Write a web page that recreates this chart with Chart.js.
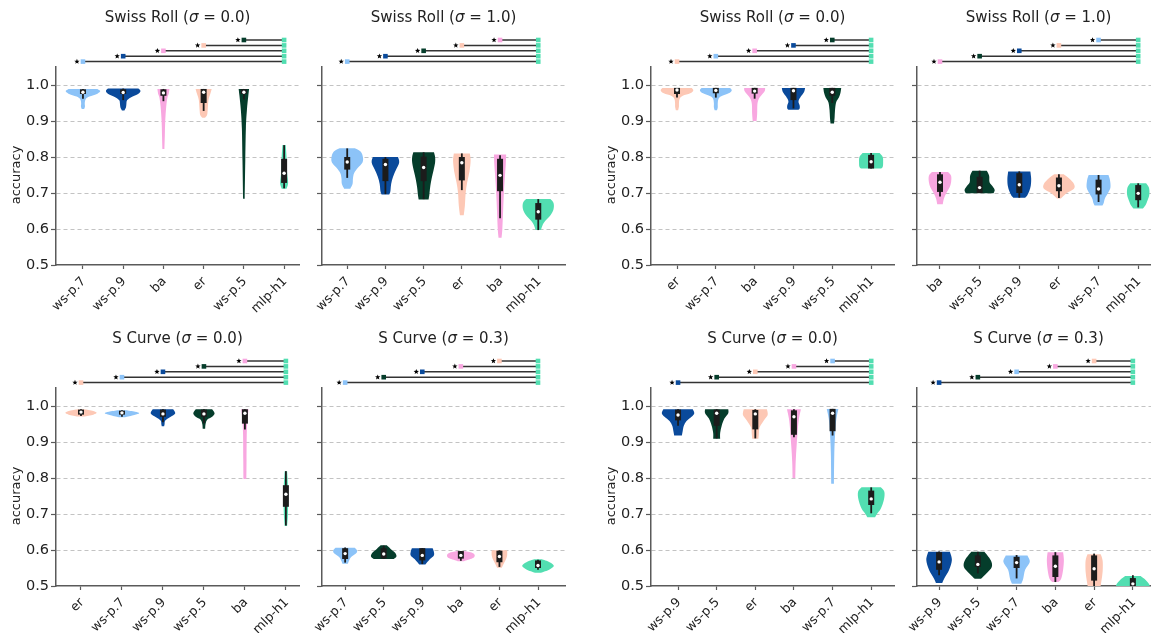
<!DOCTYPE html>
<html>
<head>
<meta charset="utf-8">
<script src="https://cdn.jsdelivr.net/npm/chart.js@4/dist/chart.umd.min.js"></script>
<style>
  html, body { margin: 0; padding: 0; background: #fff; width: 1151px; height: 633px; overflow: hidden; }
  #fig { position: relative; width: 1151px; height: 633px; overflow: hidden; }
  #fig canvas { position: absolute; }
</style>
</head>
<body>
<div id="fig"></div>
<script>
// ---------------------------------------------------------------------------
// Accuracy distributions per architecture.
// Stats rows: [q1, median, q3, whisker low, whisker high]
// Shape rows: [accuracy, density half-width in category units], top to bottom
// ---------------------------------------------------------------------------
const yTicks = [0.5, 0.6, 0.7, 0.8, 0.9, 1.0];
const bracketLevels = [1.065, 1.080, 1.095, 1.110, 1.125];

// Swiss Roll, sigma 0.0 (run A)
const rollCleanACats = ['ws-p.7', 'ws-p.9', 'ba', 'er', 'ws-p.5', 'mlp-h1'];
const rollCleanAStats = [
  [0.975, 0.980, 0.988, 0.962, 0.989],
  [0.975, 0.979, 0.988, 0.958, 0.990],
  [0.970, 0.978, 0.988, 0.955, 0.989],
  [0.950, 0.980, 0.989, 0.928, 0.989],
  [0.975, 0.980, 0.988, 0.960, 0.989],
  [0.728, 0.755, 0.795, 0.713, 0.833]
];
const rollCleanAShape = [
  [[0.989, 0.36], [0.983, 0.43], [0.976, 0.36], [0.968, 0.16], [0.961, 0.07], [0.950, 0.045], [0.940, 0.05], [0.933, 0.03]],
  [[0.990, 0.38], [0.983, 0.43], [0.975, 0.37], [0.967, 0.21], [0.958, 0.10], [0.948, 0.08], [0.938, 0.07], [0.929, 0.03]],
  [[0.989, 0.15], [0.975, 0.13], [0.965, 0.10], [0.940, 0.07], [0.900, 0.045], [0.860, 0.035], [0.822, 0.025]],
  [[0.989, 0.20], [0.977, 0.17], [0.958, 0.12], [0.930, 0.10], [0.917, 0.085], [0.909, 0.03]],
  [[0.989, 0.13], [0.970, 0.11], [0.930, 0.075], [0.880, 0.05], [0.790, 0.035], [0.684, 0.02]],
  [[0.833, 0.04], [0.800, 0.06], [0.755, 0.075], [0.728, 0.10], [0.712, 0.06]]
];

// Swiss Roll, sigma 1.0 (run A)
const rollNoisyACats = ['ws-p.7', 'ws-p.9', 'ws-p.5', 'er', 'ba', 'mlp-h1'];
const rollNoisyAStats = [
  [0.765, 0.786, 0.800, 0.742, 0.824],
  [0.733, 0.779, 0.795, 0.697, 0.800],
  [0.733, 0.771, 0.801, 0.683, 0.813],
  [0.735, 0.784, 0.800, 0.708, 0.810],
  [0.705, 0.749, 0.795, 0.630, 0.805],
  [0.626, 0.648, 0.672, 0.597, 0.683]
];
const rollNoisyAShape = [
  [[0.824, 0.20], [0.815, 0.35], [0.800, 0.41], [0.785, 0.40], [0.770, 0.28], [0.755, 0.18], [0.740, 0.15], [0.725, 0.14], [0.712, 0.08]],
  [[0.800, 0.33], [0.785, 0.36], [0.765, 0.28], [0.745, 0.20], [0.725, 0.15], [0.705, 0.13], [0.696, 0.10]],
  [[0.813, 0.27], [0.800, 0.30], [0.785, 0.30], [0.763, 0.26], [0.740, 0.21], [0.715, 0.17], [0.695, 0.15], [0.682, 0.13]],
  [[0.810, 0.21], [0.790, 0.23], [0.760, 0.20], [0.730, 0.14], [0.700, 0.10], [0.665, 0.08], [0.638, 0.05]],
  [[0.807, 0.16], [0.780, 0.15], [0.750, 0.13], [0.700, 0.10], [0.650, 0.08], [0.600, 0.06], [0.576, 0.04]],
  [[0.683, 0.32], [0.672, 0.40], [0.655, 0.40], [0.638, 0.32], [0.622, 0.18], [0.610, 0.11], [0.597, 0.07]]
];

// Swiss Roll, sigma 0.0 (run B)
const rollCleanBCats = ['er', 'ws-p.7', 'ba', 'ws-p.9', 'ws-p.5', 'mlp-h1'];
const rollCleanBStats = [
  [0.975, 0.986, 0.992, 0.965, 0.992],
  [0.977, 0.985, 0.992, 0.965, 0.992],
  [0.976, 0.983, 0.992, 0.962, 0.992],
  [0.958, 0.984, 0.992, 0.935, 0.992],
  [0.970, 0.980, 0.992, 0.950, 0.992],
  [0.768, 0.787, 0.806, 0.768, 0.811]
];
const rollCleanBShape = [
  [[0.992, 0.38], [0.985, 0.42], [0.977, 0.34], [0.970, 0.15], [0.962, 0.07], [0.950, 0.05], [0.940, 0.05], [0.930, 0.03]],
  [[0.992, 0.37], [0.985, 0.41], [0.977, 0.33], [0.969, 0.14], [0.962, 0.07], [0.950, 0.05], [0.938, 0.05], [0.930, 0.03]],
  [[0.992, 0.27], [0.983, 0.26], [0.972, 0.18], [0.960, 0.10], [0.945, 0.07], [0.920, 0.065], [0.900, 0.05]],
  [[0.992, 0.30], [0.980, 0.27], [0.968, 0.19], [0.955, 0.13], [0.943, 0.16], [0.935, 0.16], [0.931, 0.12]],
  [[0.992, 0.23], [0.978, 0.21], [0.965, 0.17], [0.952, 0.10], [0.930, 0.07], [0.910, 0.06], [0.893, 0.045]],
  [[0.811, 0.22], [0.800, 0.30], [0.785, 0.31], [0.773, 0.30], [0.768, 0.26]]
];

// Swiss Roll, sigma 1.0 (run B)
const rollNoisyBCats = ['ba', 'ws-p.5', 'ws-p.9', 'er', 'ws-p.7', 'mlp-h1'];
const rollNoisyBStats = [
  [0.703, 0.730, 0.752, 0.690, 0.758],
  [0.700, 0.715, 0.745, 0.700, 0.762],
  [0.700, 0.723, 0.755, 0.687, 0.760],
  [0.705, 0.720, 0.743, 0.686, 0.752],
  [0.696, 0.711, 0.737, 0.675, 0.750],
  [0.680, 0.699, 0.722, 0.660, 0.727]
];
const rollNoisyBShape = [
  [[0.758, 0.20], [0.748, 0.28], [0.730, 0.28], [0.715, 0.24], [0.700, 0.16], [0.685, 0.10], [0.669, 0.07]],
  [[0.762, 0.18], [0.748, 0.24], [0.730, 0.25], [0.718, 0.33], [0.708, 0.38], [0.699, 0.35]],
  [[0.760, 0.28], [0.740, 0.30], [0.720, 0.29], [0.705, 0.25], [0.693, 0.20], [0.687, 0.15]],
  [[0.752, 0.12], [0.740, 0.26], [0.725, 0.38], [0.712, 0.38], [0.700, 0.20], [0.690, 0.10], [0.685, 0.05]],
  [[0.750, 0.25], [0.735, 0.29], [0.715, 0.30], [0.700, 0.24], [0.685, 0.16], [0.672, 0.13], [0.665, 0.10]],
  [[0.727, 0.20], [0.715, 0.27], [0.695, 0.28], [0.675, 0.22], [0.665, 0.18], [0.657, 0.12]]
];

// S Curve, sigma 0.0 (run A)
const curveCleanACats = ['er', 'ws-p.7', 'ws-p.9', 'ws-p.5', 'ba', 'mlp-h1'];
const curveCleanAStats = [
  [0.976, 0.983, 0.990, 0.972, 0.991],
  [0.976, 0.981, 0.987, 0.970, 0.988],
  [0.970, 0.978, 0.990, 0.955, 0.991],
  [0.970, 0.978, 0.990, 0.952, 0.991],
  [0.951, 0.980, 0.991, 0.935, 0.991],
  [0.720, 0.755, 0.780, 0.668, 0.819]
];
const curveCleanAShape = [
  [[0.991, 0.08], [0.986, 0.30], [0.981, 0.38], [0.976, 0.30], [0.971, 0.08]],
  [[0.988, 0.10], [0.984, 0.32], [0.980, 0.42], [0.975, 0.30], [0.969, 0.08]],
  [[0.991, 0.25], [0.980, 0.30], [0.972, 0.22], [0.965, 0.12], [0.958, 0.05], [0.950, 0.04], [0.944, 0.03]],
  [[0.991, 0.20], [0.980, 0.26], [0.970, 0.20], [0.962, 0.08], [0.950, 0.04], [0.937, 0.03]],
  [[0.991, 0.09], [0.960, 0.06], [0.920, 0.045], [0.850, 0.04], [0.797, 0.035]],
  [[0.819, 0.03], [0.780, 0.05], [0.750, 0.055], [0.700, 0.05], [0.667, 0.03]]
];

// S Curve, sigma 0.3 (run A)
const curveNoisyACats = ['ws-p.7', 'ws-p.5', 'ws-p.9', 'ba', 'er', 'mlp-h1'];
const curveNoisyAStats = [
  [0.575, 0.590, 0.605, 0.565, 0.607],
  [0.577, 0.589, 0.605, 0.575, 0.612],
  [0.571, 0.585, 0.605, 0.561, 0.605],
  [0.576, 0.585, 0.597, 0.570, 0.597],
  [0.566, 0.582, 0.598, 0.553, 0.599],
  [0.550, 0.557, 0.571, 0.545, 0.573]
];
const curveNoisyAShape = [
  [[0.606, 0.25], [0.598, 0.31], [0.590, 0.28], [0.580, 0.15], [0.570, 0.10], [0.562, 0.07]],
  [[0.613, 0.08], [0.603, 0.18], [0.592, 0.30], [0.582, 0.33], [0.575, 0.26]],
  [[0.605, 0.27], [0.595, 0.30], [0.585, 0.30], [0.575, 0.20], [0.565, 0.12], [0.560, 0.08]],
  [[0.597, 0.08], [0.592, 0.30], [0.585, 0.36], [0.577, 0.30], [0.569, 0.08]],
  [[0.599, 0.20], [0.585, 0.20], [0.572, 0.16], [0.560, 0.10], [0.551, 0.06]],
  [[0.574, 0.10], [0.566, 0.30], [0.556, 0.41], [0.546, 0.30], [0.537, 0.08]]
];

// S Curve, sigma 0.0 (run B)
const curveCleanBCats = ['ws-p.9', 'ws-p.5', 'er', 'ba', 'ws-p.7', 'mlp-h1'];
const curveCleanBStats = [
  [0.960, 0.975, 0.990, 0.945, 0.991],
  [0.945, 0.980, 0.990, 0.910, 0.991],
  [0.935, 0.978, 0.989, 0.910, 0.991],
  [0.920, 0.970, 0.988, 0.913, 0.991],
  [0.930, 0.980, 0.992, 0.918, 0.992],
  [0.725, 0.742, 0.765, 0.702, 0.774]
];
const curveCleanBShape = [
  [[0.991, 0.38], [0.980, 0.42], [0.970, 0.35], [0.958, 0.22], [0.945, 0.15], [0.930, 0.12], [0.918, 0.10]],
  [[0.991, 0.30], [0.980, 0.30], [0.965, 0.20], [0.945, 0.13], [0.925, 0.09], [0.909, 0.09]],
  [[0.991, 0.30], [0.975, 0.32], [0.960, 0.22], [0.940, 0.11], [0.920, 0.09], [0.909, 0.08]],
  [[0.991, 0.18], [0.965, 0.13], [0.935, 0.10], [0.890, 0.07], [0.845, 0.045], [0.800, 0.035]],
  [[0.992, 0.15], [0.965, 0.10], [0.930, 0.07], [0.870, 0.045], [0.784, 0.035]],
  [[0.774, 0.25], [0.762, 0.34], [0.740, 0.33], [0.715, 0.25], [0.700, 0.15], [0.691, 0.10]]
];

// S Curve, sigma 0.3 (run B)
const curveNoisyBCats = ['ws-p.9', 'ws-p.5', 'ws-p.7', 'ba', 'er', 'mlp-h1'];
const curveNoisyBStats = [
  [0.545, 0.567, 0.594, 0.530, 0.596],
  [0.553, 0.560, 0.585, 0.535, 0.595],
  [0.550, 0.565, 0.581, 0.521, 0.586],
  [0.525, 0.555, 0.585, 0.511, 0.594],
  [0.515, 0.548, 0.585, 0.497, 0.590],
  [0.497, 0.506, 0.522, 0.490, 0.530]
];
const curveNoisyBShape = [
  [[0.595, 0.28], [0.572, 0.33], [0.545, 0.26], [0.520, 0.13], [0.508, 0.08]],
  [[0.595, 0.17], [0.572, 0.33], [0.553, 0.36], [0.535, 0.22], [0.520, 0.08]],
  [[0.585, 0.28], [0.567, 0.34], [0.545, 0.22], [0.520, 0.17], [0.506, 0.12]],
  [[0.594, 0.20], [0.572, 0.22], [0.545, 0.20], [0.520, 0.15], [0.511, 0.08]],
  [[0.588, 0.17], [0.570, 0.22], [0.540, 0.22], [0.515, 0.19], [0.495, 0.16]],
  [[0.528, 0.20], [0.517, 0.33], [0.503, 0.43], [0.490, 0.43]]
];

// ---------------------------------------------------------------------------
// Styling and layout
// ---------------------------------------------------------------------------
const archColors = {
  'ws-p.7': '#8cc3f8',
  'ws-p.9': '#0a4a9b',
  'ba': '#f8a7e0',
  'er': '#fdc8b5',
  'ws-p.5': '#053d2b',
  'mlp-h1': '#52deb1'
};
const FONT = '"DejaVu Sans", "Liberation Sans", sans-serif';
const TEXT = '#222222';
const SPINE = '#5a5a5a';
const AXIS_W = 56;      // room left of the plot area
const PAD_TOP = 67;     // room above the plot area (title + brackets)
const AREA_H = 198;     // plot area height
const AREA_W = 243;     // plot area width
const PAD_RIGHT = 20;

const panels = [
  { title: 'Swiss Roll', sigma: '0.0', cats: rollCleanACats, stats: rollCleanAStats, shape: rollCleanAShape,
    axisLeft: 56, top: 0, height: 330, xMin: -0.67, xMax: 5.37, yLabels: true },
  { title: 'Swiss Roll', sigma: '1.0', cats: rollNoisyACats, stats: rollNoisyAStats, shape: rollNoisyAShape,
    axisLeft: 322, top: 0, height: 330, xMin: -0.66, xMax: 5.70, yLabels: false },
  { title: 'Swiss Roll', sigma: '0.0', cats: rollCleanBCats, stats: rollCleanBStats, shape: rollCleanBShape,
    axisLeft: 651, top: 0, height: 330, xMin: -0.67, xMax: 5.59, yLabels: true },
  { title: 'Swiss Roll', sigma: '1.0', cats: rollNoisyBCats, stats: rollNoisyBStats, shape: rollNoisyBShape,
    axisLeft: 917, top: 0, height: 330, xMin: -0.58, xMax: 5.55, yLabels: false },
  { title: 'S Curve', sigma: '0.0', cats: curveCleanACats, stats: curveCleanAStats, shape: curveCleanAShape,
    axisLeft: 56, top: 321, height: 312, xMin: -0.61, xMax: 5.32, yLabels: true },
  { title: 'S Curve', sigma: '0.3', cats: curveNoisyACats, stats: curveNoisyAStats, shape: curveNoisyAShape,
    axisLeft: 322, top: 321, height: 312, xMin: -0.60, xMax: 5.70, yLabels: false },
  { title: 'S Curve', sigma: '0.0', cats: curveCleanBCats, stats: curveCleanBStats, shape: curveCleanBShape,
    axisLeft: 651, top: 321, height: 312, xMin: -0.70, xMax: 5.59, yLabels: true },
  { title: 'S Curve', sigma: '0.3', cats: curveNoisyBCats, stats: curveNoisyBStats, shape: curveNoisyBShape,
    axisLeft: 917, top: 321, height: 312, xMin: -0.57, xMax: 5.70, yLabels: false }
];

// ---------------------------------------------------------------------------
// Drawing helpers
// ---------------------------------------------------------------------------
function splineThrough(ctx, pts) {
  for (let i = 0; i < pts.length - 1; i++) {
    const p0 = pts[Math.max(i - 1, 0)], p1 = pts[i], p2 = pts[i + 1], p3 = pts[Math.min(i + 2, pts.length - 1)];
    const t = 1 / 6;
    ctx.bezierCurveTo(
      p1[0] + (p2[0] - p0[0]) * t, p1[1] + (p2[1] - p0[1]) * t,
      p2[0] - (p3[0] - p1[0]) * t, p2[1] - (p3[1] - p1[1]) * t,
      p2[0], p2[1]);
  }
}

function drawStar(ctx, cx, cy, R, r) {
  ctx.beginPath();
  for (let k = 0; k < 10; k++) {
    const a = -Math.PI / 2 + k * Math.PI / 5;
    const rad = k % 2 ? r : R;
    ctx.lineTo(cx + rad * Math.cos(a), cy + rad * Math.sin(a));
  }
  ctx.closePath();
  ctx.fill();
}

function panelPlugin(p) {
  return {
    id: 'violinPanel',
    beforeDatasetsDraw(chart) {
      const { ctx, chartArea, scales: { x, y } } = chart;
      const unit = x.getPixelForValue(1) - x.getPixelForValue(0);
      ctx.save();
      ctx.beginPath();
      ctx.rect(chartArea.left, chartArea.top, chartArea.right - chartArea.left, chartArea.bottom - chartArea.top);
      ctx.clip();
      p.shape.forEach((prof, i) => {
        const cx = x.getPixelForValue(i);
        const right = prof.map(([v, w]) => [cx + w * unit, y.getPixelForValue(v)]);
        const left = prof.map(([v, w]) => [cx - w * unit, y.getPixelForValue(v)]).reverse();
        ctx.beginPath();
        ctx.moveTo(left[left.length - 1][0], left[left.length - 1][1]);
        ctx.lineTo(right[0][0], right[0][1]);
        splineThrough(ctx, right);
        ctx.lineTo(left[0][0], left[0][1]);
        splineThrough(ctx, left);
        ctx.closePath();
        ctx.fillStyle = archColors[p.cats[i]];
        ctx.fill();

        // inner box: whisker line + interquartile box
        const [q1, , q3, lo, hi] = p.stats[i];
        ctx.strokeStyle = '#1c1c1c';
        ctx.lineWidth = 1.8;
        ctx.beginPath();
        ctx.moveTo(cx, y.getPixelForValue(lo));
        ctx.lineTo(cx, y.getPixelForValue(hi));
        ctx.stroke();
        ctx.fillStyle = '#1c1c1c';
        const yt = y.getPixelForValue(q3), yb = y.getPixelForValue(q1);
        ctx.fillRect(cx - 3, yt, 6, yb - yt);
      });
      ctx.restore();
    },
    afterDraw(chart) {
      const { ctx, chartArea, scales: { x, y } } = chart;
      ctx.save();
      // comparison brackets against the last architecture
      const last = p.cats.length - 1;
      const xEnd = x.getPixelForValue(last);
      bracketLevels.forEach((lv, i) => {
        const yy = y.getPixelForValue(lv);
        const xs = x.getPixelForValue(i);
        ctx.strokeStyle = '#333333';
        ctx.lineWidth = 1.5;
        ctx.beginPath();
        ctx.moveTo(xs, yy);
        ctx.lineTo(xEnd, yy);
        ctx.stroke();
        ctx.fillStyle = archColors[p.cats[i]];
        ctx.fillRect(xs - 2.3, yy - 2.3, 4.6, 4.6);
        ctx.fillStyle = archColors[p.cats[last]];
        ctx.fillRect(xEnd - 2.3, yy - 2.3, 4.6, 4.6);
        ctx.fillStyle = '#000';
        drawStar(ctx, xs - 6, yy, 2.8, 1.2);
      });

      // title with an italic sigma
      const cxTitle = (chartArea.left + chartArea.right) / 2;
      const ty = chartArea.top - 49;
      const partA = p.title + ' (';
      const partB = '\u03C3';
      const partC = ' = ' + p.sigma + ')';
      const fR = '15px ' + FONT, fI = 'oblique 15px ' + FONT;
      ctx.font = fR; const wA = ctx.measureText(partA).width, wC = ctx.measureText(partC).width;
      ctx.font = fI; const wB = ctx.measureText(partB).width;
      let tx = cxTitle - (wA + wB + wC) / 2;
      ctx.fillStyle = TEXT;
      ctx.textBaseline = 'middle';
      ctx.textAlign = 'left';
      ctx.font = fR; ctx.fillText(partA, tx, ty); tx += wA;
      ctx.font = fI; ctx.fillText(partB, tx, ty); tx += wB;
      ctx.font = fR; ctx.fillText(partC, tx, ty);

      // y axis label, centred on the labelled tick range
      if (p.yLabels) {
        const yMid = (y.getPixelForValue(yTicks[0]) + y.getPixelForValue(yTicks[yTicks.length - 1])) / 2;
        ctx.translate(chartArea.left - 39.5, yMid);
        ctx.rotate(-Math.PI / 2);
        ctx.font = '13px ' + FONT;
        ctx.textAlign = 'center';
        ctx.fillText('accuracy', 0, 0);
      }
      ctx.restore();
    }
  };
}

// ---------------------------------------------------------------------------
// Build the eight panels
// ---------------------------------------------------------------------------
const fig = document.getElementById('fig');

panels.forEach((p) => {
  const cv = document.createElement('canvas');
  cv.width = AXIS_W + AREA_W + PAD_RIGHT;
  cv.height = p.height;
  cv.style.left = (p.axisLeft - AXIS_W) + 'px';
  cv.style.top = p.top + 'px';
  fig.appendChild(cv);
  const xAxisH = p.height - PAD_TOP - AREA_H;

  new Chart(cv, {
    type: 'scatter',
    data: {
      datasets: [{
        label: 'median',
        data: p.stats.map((s, i) => ({ x: i, y: s[1] })),
        pointRadius: 1.7,
        pointBackgroundColor: '#ffffff',
        pointBorderWidth: 0,
        pointHoverRadius: 1.7
      }]
    },
    options: {
      responsive: false,
      animation: false,
      events: [],
      layout: { padding: { top: PAD_TOP, right: PAD_RIGHT, left: 0, bottom: 0 } },
      plugins: { legend: { display: false }, tooltip: { enabled: false }, title: { display: false } },
      scales: {
        x: {
          type: 'linear',
          min: p.xMin,
          max: p.xMax,
          afterBuildTicks: (s) => { s.ticks = p.cats.map((c, i) => ({ value: i })); },
          afterFit: (s) => { s.height = xAxisH; s.paddingLeft = 0; s.paddingRight = 0; },
          ticks: {
            autoSkip: false,
            minRotation: 45,
            maxRotation: 45,
            padding: 5,
            labelOffset: 1,
            color: TEXT,
            font: { family: FONT, size: 12.7 },
            callback: (v) => p.cats[v]
          },
          grid: { drawOnChartArea: false, drawTicks: true, tickLength: 4, tickColor: SPINE, tickWidth: 1.2 },
          border: { color: SPINE, width: 1.5 }
        },
        y: {
          min: 0.5,
          max: 1.05,
          afterBuildTicks: (s) => { s.ticks = yTicks.map((v) => ({ value: v })); },
          afterFit: (s) => { s.width = AXIS_W; },
          ticks: {
            display: p.yLabels,
            padding: 2,
            color: TEXT,
            font: { family: FONT, size: 14.5 },
            callback: (v) => v.toFixed(1)
          },
          grid: {
            color: (c) => (c.tick && c.tick.value === yTicks[0]) ? 'rgba(0,0,0,0)' : '#c3c3c3',
            lineWidth: 1,
            drawTicks: true,
            tickLength: 5,
            tickColor: SPINE,
            tickWidth: 1.2
          },
          border: { color: SPINE, width: 1.5, dash: [4, 3] }
        }
      }
    },
    plugins: [panelPlugin(p)]
  });
});
</script>
</body>
</html>
